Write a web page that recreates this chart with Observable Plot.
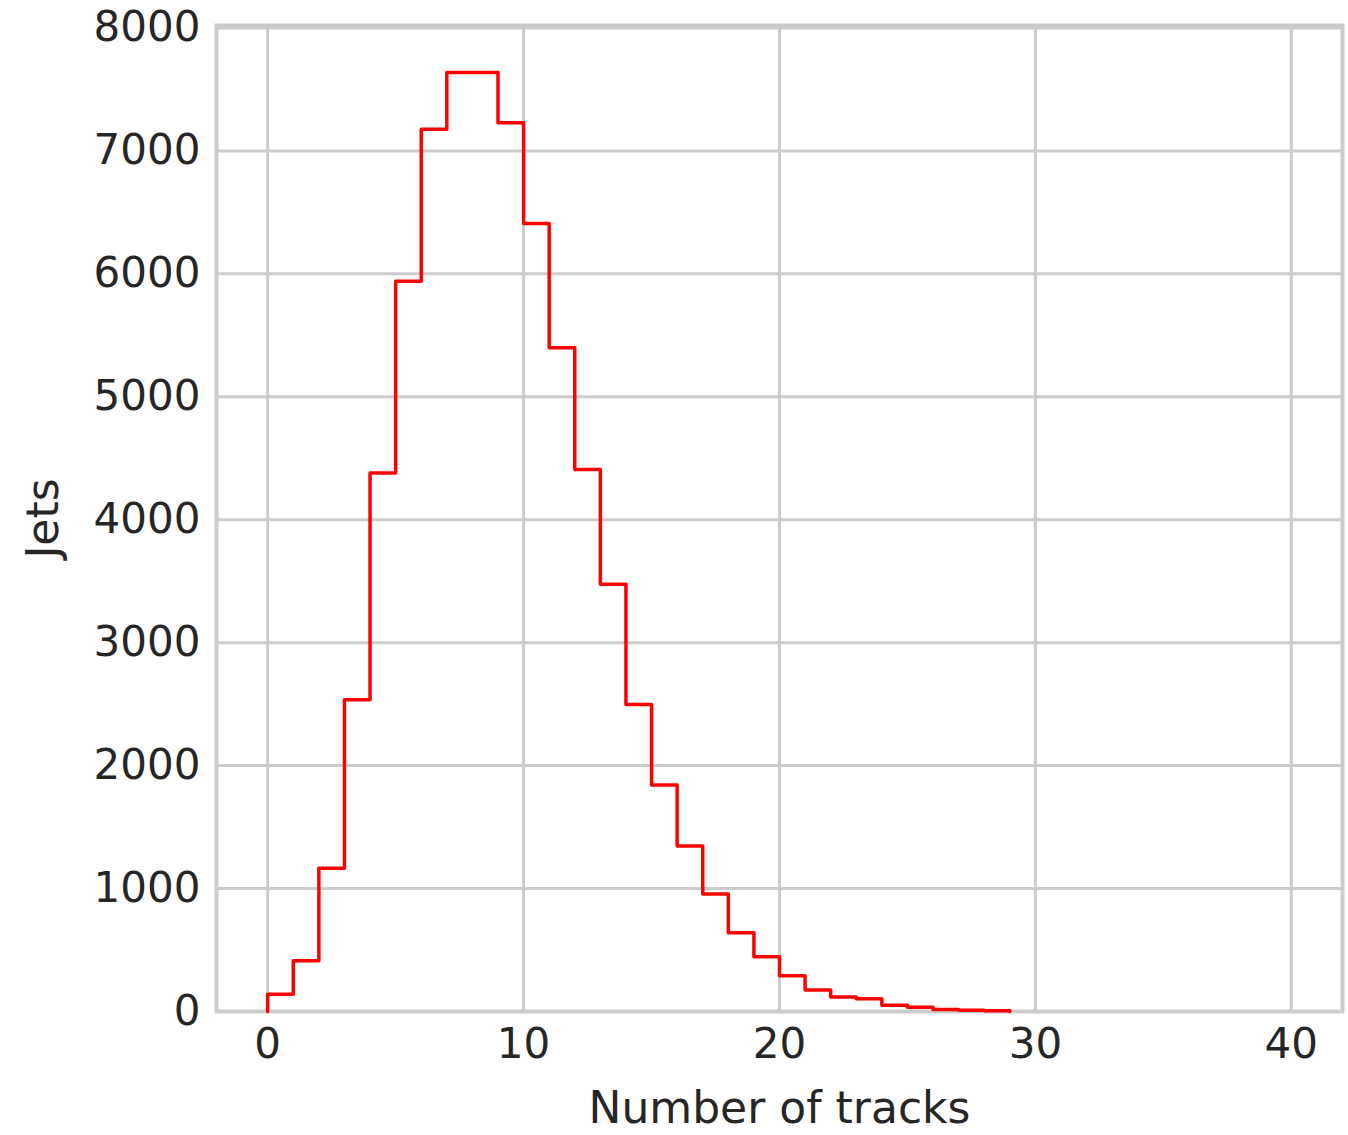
<!DOCTYPE html>
<html>
<head>
<meta charset="utf-8">
<script src="https://cdn.jsdelivr.net/npm/d3@7"></script>
<script src="https://cdn.jsdelivr.net/npm/@observablehq/plot@0.6"></script>
<style>
  html, body { margin: 0; padding: 0; background: #ffffff; }
  #chart { width: 1348px; height: 1135px; }
</style>
</head>
<body>
<div id="chart"></div>
<script>
// Lower edge of each histogram bin (bin width 1)
const binStarts = [0, 1, 2, 3, 4, 5, 6, 7, 8, 9, 10, 11, 12, 13, 14, 15, 16, 17, 18, 19, 20, 21, 22, 23, 24, 25, 26, 27, 28];
// Jets per bin
const jetCounts = [140, 412, 1165, 2536, 4380, 5940, 7176, 7637, 7637, 7228, 6410, 5398, 4408, 3476, 2498, 1843, 1346, 955, 640, 445, 290, 174, 118, 104, 50, 34, 16, 10, 6];
const lastEdge = 29;
const xTicks = [0, 10, 20, 30, 40];
const yTicks = [0, 1000, 2000, 3000, 4000, 5000, 6000, 7000, 8000];
const xTitle = "Number of tracks";
const yTitle = "Jets";

// step outline built from the bins
const steps = [{x: binStarts[0], y: 0}];
binStarts.forEach((b, i) => steps.push({x: b, y: jetCounts[i]}));
steps.push({x: lastEdge, y: jetCounts[jetCounts.length - 1]});
steps.push({x: lastEdge, y: 0});

const grid = "#cccccc";
const ink = "#262626";

const chart = Plot.plot({
  width: 1348,
  height: 1135,
  marginLeft: 216,
  marginRight: 6,
  marginTop: 25,
  marginBottom: 124,
  style: {fontFamily: "'DejaVu Sans', sans-serif", background: "#ffffff", color: ink},
  x: {domain: [-2, 42]},
  y: {domain: [0, 8020]},
  marks: [
    Plot.gridX(xTicks, {stroke: grid, strokeOpacity: 1, strokeWidth: 3}),
    Plot.gridY(yTicks, {stroke: grid, strokeOpacity: 1, strokeWidth: 3}),
    Plot.frame({stroke: grid, strokeWidth: 4}),
    Plot.line(steps, {x: "x", y: "y", curve: "step-after", stroke: "#ff0000", strokeWidth: 3.5}),
    Plot.axisX(xTicks, {tickSize: 0, tickPadding: 17, fontSize: 42, fill: ink, label: null, tickFormat: d => String(d)}),
    Plot.axisY(yTicks, {tickSize: 0, tickPadding: 16, fontSize: 42, fill: ink, label: null, tickFormat: d => String(d)}),
    Plot.text([xTitle], {frameAnchor: "bottom", textAnchor: "middle", lineAnchor: "middle", dy: 97, fontSize: 44, fill: ink}),
    Plot.text([yTitle], {frameAnchor: "left", textAnchor: "middle", lineAnchor: "middle", dx: -173, rotate: -90, fontSize: 44, fill: ink})
  ]
});
document.getElementById("chart").appendChild(chart);
</script>
</body>
</html>
